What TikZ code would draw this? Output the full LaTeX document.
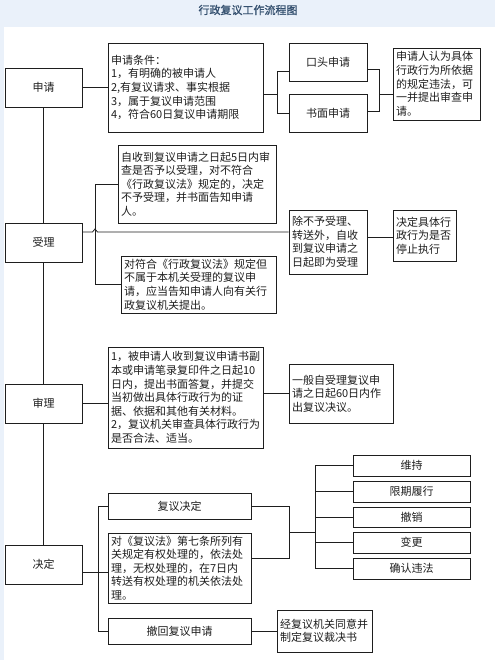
\documentclass[tikz,border=0pt]{standalone}
\usepackage{fontspec}
\setmainfont{Noto Sans CJK SC}
\newfontfamily\titlefont[FakeBold=1.2]{Noto Sans CJK SC}
\usetikzlibrary{calc}
\definecolor{bandblue}{HTML}{EAF1FA}
\definecolor{titleblue}{HTML}{34506F}
\definecolor{inkc}{HTML}{1E1E1E}
\tikzset{
  basebox/.style={draw=inkc, line width=0.9pt, fill=white, inner xsep=3pt, inner ysep=2pt,
    font=\fontsize{11pt}{13.6pt}\selectfont, text=inkc},
  cbox/.style={basebox, align=center},
  lbox/.style={basebox, align=left},
  conn/.style={draw=inkc, line width=0.8pt}
}
\newcommand\cbx[6]{%
  \pgfmathsetmacro\bxc{(#2+#4)/2}%
  \pgfmathsetmacro\byc{(#3+#5)/2}%
  \pgfmathsetmacro\bw{#4-#2}%
  \pgfmathsetmacro\bh{#5-#3}%
  \node[cbox, minimum width=\bw pt, minimum height=\bh pt] (#1) at (\bxc,\byc) {#6};}
\newcommand\lbx[6]{%
  \pgfmathsetmacro\bxc{(#2+#4)/2}%
  \pgfmathsetmacro\byc{(#3+#5)/2}%
  \pgfmathsetmacro\bw{#4-#2}%
  \pgfmathsetmacro\bh{#5-#3}%
  \pgfmathsetmacro\btw{#4-#2-6}%
  \node[lbox, text width=\btw pt, minimum width=\bw pt, minimum height=\bh pt] (#1) at (\bxc,\byc) {#6};}
\begin{document}
\begin{tikzpicture}[x=1pt,y=-1pt]
\useasboundingbox (0,0) rectangle (495,660);
\fill[white] (0,0) rectangle (495,660);
\fill[bandblue] (0,0) rectangle (495,27);
\fill[bandblue] (0,27) rectangle (4,660);
\node[font=\titlefont\fontsize{11pt}{12pt}\selectfont, text=titleblue] (title) at (248,10) {行政复议工作流程图};

% main spine (drawn first, boxes cover it)
\coordinate (sp1) at (43.5,107);
\coordinate (sp2) at (43.5,545);
\draw[conn] (sp1) -- (sp2);

% boxes
\cbx{shenqing}{5}{68}{82}{107}{申请}
\lbx{tiaojian}{108}{43}{263}{132}{申请条件：\\1，有明确的被申请人\\2,有复议请求、事实根据\\3，属于复议申请范围\\4，符合60日复议申请期限}
\cbx{koutou}{289}{43}{367}{81}{口头申请}
\cbx{shumian}{289}{94}{367}{132}{书面申请}
\lbx{shenchaR}{393}{48}{480}{120}{申请人认为具体\\行政行为所依据\\的规定违法，可\\一并提出审查申\\请。}

\lbx{boxa}{118}{145}{276}{223}{自收到复议申请之日起5日内审\\查是否予以受理，对不符合\\《行政复议法》规定的，决定\\不予受理，并书面告知申请\\人。}
\cbx{shouli}{5}{223}{82}{262}{受理}
\lbx{boxb}{121}{256}{276}{313}{对符合《行政复议法》规定但\\不属于本机关受理的复议申\\请，应当告知申请人向有关行\\政复议机关提出。}
\lbx{chubu}{289}{210}{367}{274}{除不予受理、\\转送外，自收\\到复议申请之\\日起即为受理}
\lbx{tingzhi}{393}{210}{456}{261}{决定具体行\\政行为是否\\停止执行}

\cbx{shenli}{5}{384}{82}{423}{审理}
\lbx{shenlitxt}{108}{347}{263}{448}{1，被申请人收到复议申请书副\\本或申请笔录复印件之日起10\\日内，提出书面答复，并提交\\当初做出具体行政行为的证\\据、依据和其他有关材料。\\2，复议机关审查具体行政行为\\是否合法、适当。}
\lbx{yiban}{289}{364}{393}{423}{一般自受理复议申\\请之日起60日内作\\出复议决议。}

\cbx{weichi}{353}{455}{470}{476}{维持}
\cbx{xianqi}{353}{481}{470}{502}{限期履行}
\cbx{chexiao}{353}{507}{470}{527}{撤销}
\cbx{biangeng}{353}{532}{470}{553}{变更}
\cbx{queren}{353}{558}{470}{579}{确认违法}

\cbx{fuyijd}{108}{493}{251}{519}{复议决定}
\lbx{dui}{108}{533}{251}{603}{对《复议法》第七条所列有\\关规定有权处理的，依法处\\理，无权处理的，在7日内\\转送有权处理的机关依法处\\理。}
\cbx{jueding}{5}{545}{82}{584}{决定}
\cbx{chehui}{108}{618}{251}{644}{撤回复议申请}
\lbx{jing}{277}{610}{372}{652}{经复议机关同意并\\制定复议裁决书}

% ---- connectors: 申请
\draw[conn] (shenqing.east) -- (shenqing.east -| tiaojian.west);
\coordinate (ja) at (277,94);
\coordinate (ka) at (277,71);
\coordinate (kb) at (277,113);
\draw[conn] (ja -| tiaojian.east) -- (ja);
\draw[conn] (ka -| koutou.west) -- (ka) -- (kb) -- (kb -| shumian.west);
\coordinate (ra) at (379,69);
\coordinate (rb) at (379,111);
\coordinate (rc) at (379,94);
\draw[conn] (ra -| koutou.east) -- (ra) -- (rb) -- (rb -| shumian.east);
\draw[conn] (rc) -- (rc -| shenchaR.west);

% ---- 受理
\coordinate (va) at (95,232);
\draw[conn] (boxa.west) -- (boxa.west -| va) -- (boxb.west -| va) -- (boxb.west);
\draw[conn] (va -| shouli.east) -- ($(va)+(-2.5,0)$) -- ($(va)+(0,-3)$) -- ($(va)+(2.5,0)$) -- (va -| chubu.west);
\coordinate (vt) at (380,237);
\draw[conn] (vt -| chubu.east) -- (vt -| tingzhi.west);

% ---- 审理
\draw[conn] (shenli.east) -- (shenli.east -| shenlitxt.west);
\draw[conn] (yiban.west -| shenlitxt.east) -- (yiban.west);

% ---- 决定
\coordinate (vb) at (98,572);
\draw[conn] (vb -| jueding.east) -- (vb -| dui.west);
\draw[conn] (fuyijd.west) -- (fuyijd.west -| vb) -- (chehui.west -| vb) -- (chehui.west);
\coordinate (vc) at (289,532);
\coordinate (dd) at (251,558);
\draw[conn] (fuyijd.east) -- (fuyijd.east -| vc) -- (vc |- dd) -- (dd);
\coordinate (vd) at (315,532);
\draw[conn] (vc) -- (vd);
\draw[conn] (weichi.west -| vd) -- (queren.west -| vd);
\foreach \b in {weichi,xianqi,chexiao,biangeng,queren}
  \draw[conn] (\b.west -| vd) -- (\b.west);
\draw[conn] (chehui.east) -- (chehui.east -| jing.west);
\end{tikzpicture}
\end{document}
